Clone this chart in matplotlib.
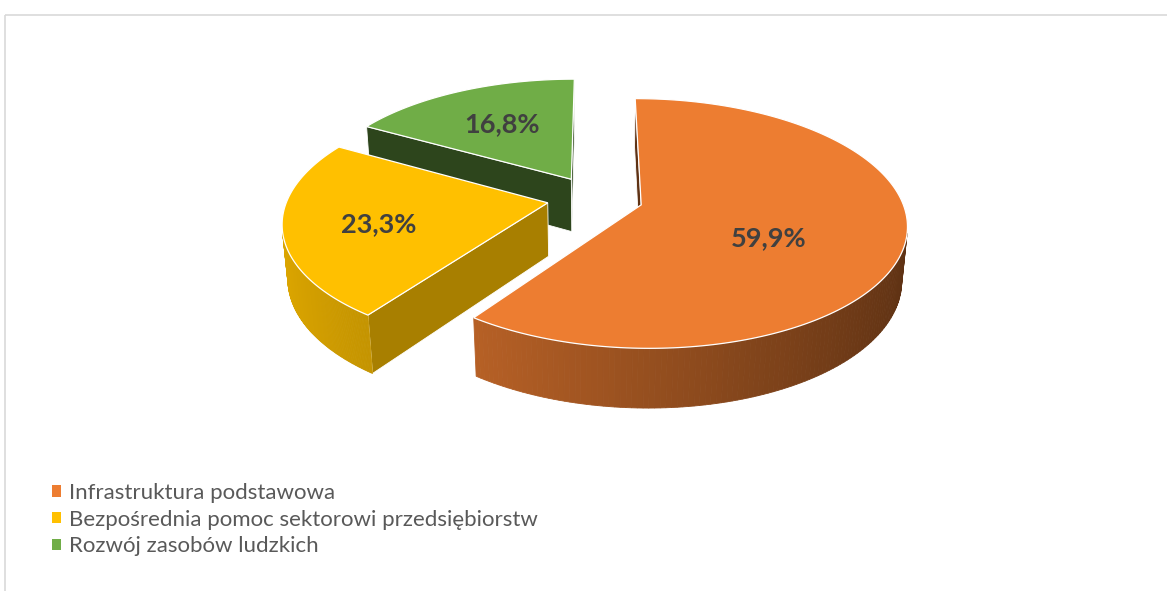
import numpy as np
import matplotlib.pyplot as plt
from matplotlib.patches import Polygon, Rectangle, Patch

# data
labels = ["Infrastruktura podstawowa",
          "Bezpośrednia pomoc sektorowi przedsiębiorstw",
          "Rozwój zasobów ludzkich"]
values = [59.9, 23.3, 16.8]
pct_labels = ["59,9%", "23,3%", "16,8%"]
colors = ["#ED7D31", "#FFC000", "#70AD47"]

# styling of the 3D look
radial_shade = [0.40, 0.66, 0.40]     # darkening of the cut faces
label_r = [0.53, 0.65, 0.60]          # label distance from slice apex (in radii)
label_turn = [-12, 3, 0]              # small angular tweak of label position

W, H = 1167, 591
fig = plt.figure(figsize=(W / 100, H / 100), dpi=100)
ax = fig.add_axes([0, 0, 1, 1])
ax.set_xlim(0, W)
ax.set_ylim(H, 0)
ax.axis("off")

# camera / projection
cx, cy = 595.0, 198.0
S = 260.0            # pixels per radius at centre depth
Dr = 6.0             # camera distance in radii
th = np.radians(27.5)  # elevation
thick = 0.235
explode = 0.185
cam = np.array([0.0, -Dr * np.cos(th), Dr * np.sin(th)])


def proj(x, y, z):
    d = Dr + y * np.cos(th) - z * np.sin(th)
    sx = cx + S * Dr * x / d
    sy = cy - S * Dr * (y * np.sin(th) + z * np.cos(th)) / d
    return np.column_stack([np.atleast_1d(sx), np.atleast_1d(sy)])


def shade(c, f):
    rgb = np.array(plt.matplotlib.colors.to_rgb(c))
    return tuple(np.clip(rgb * f, 0, 1))


# slices: start at 12 o'clock, clockwise
slices = []
start = 90.0
for v, c in zip(values, colors):
    a1 = start
    a0 = start - v * 3.6
    mid = np.radians((a0 + a1) / 2)
    apex = np.array([explode * np.cos(mid), explode * np.sin(mid)])
    slices.append((a0, a1, apex))
    start = a0

# draw back to front
order = sorted(range(len(values)), key=lambda i: -slices[i][2][1])
for i in order:
    a0, a1, apex = slices[i]
    c = colors[i]
    phi = np.radians(np.linspace(a0, a1, 200))
    rx = apex[0] + np.cos(phi)
    ry = apex[1] + np.sin(phi)

    # cut faces
    for ang, sgn in ((a0, 1), (a1, -1)):
        r = np.radians(ang)
        n = np.array([sgn * np.sin(r), -sgn * np.cos(r), 0.0])
        p = np.array([apex[0], apex[1], -thick / 2])
        if np.dot(n, cam - p) > 0:
            ex, ey = apex[0] + np.cos(r), apex[1] + np.sin(r)
            pts = np.vstack([proj(apex[0], apex[1], 0), proj(ex, ey, 0),
                             proj(ex, ey, -thick), proj(apex[0], apex[1], -thick)])
            ax.add_patch(Polygon(pts, closed=True, facecolor=shade(c, radial_shade[i]),
                                 edgecolor="white", lw=0.6, zorder=1))

    # outer curved side, in thin strips
    for k in range(len(phi) - 1):
        pm = (phi[k] + phi[k + 1]) / 2
        n = np.array([np.cos(pm), np.sin(pm), 0.0])
        p = np.array([apex[0] + np.cos(pm), apex[1] + np.sin(pm), -thick / 2])
        if np.dot(n, cam - p) <= 0:
            continue
        f = 0.632 - 0.237 * np.cos(pm)
        col = shade(c, f)
        pts = np.vstack([proj(rx[k:k + 2], ry[k:k + 2], 0),
                         proj(rx[k:k + 2][::-1], ry[k:k + 2][::-1], -thick)])
        ax.add_patch(Polygon(pts, closed=True, facecolor=col, edgecolor=col,
                             lw=0.6, zorder=1))

    # top face
    top = np.vstack([proj(apex[0], apex[1], 0), proj(rx, ry, 0)])
    ax.add_patch(Polygon(top, closed=True, facecolor=c, edgecolor="white",
                         lw=0.9, zorder=2))

    # label
    lm = np.radians((a0 + a1) / 2 + label_turn[i])
    lp = proj(apex[0] + label_r[i] * np.cos(lm), apex[1] + label_r[i] * np.sin(lm), 0)[0]
    ax.text(lp[0], lp[1], pct_labels[i], ha="center", va="center",
            fontsize=19.5, fontweight="bold", color="#404040", family="Lato", zorder=3)

# legend
handles = [Patch(facecolor=c, edgecolor="none") for c in colors]
fig.legend(handles, labels, loc="upper left", bbox_to_anchor=(43 / W, 1 - 474 / H),
           frameon=False, prop={"family": "Lato", "size": 16}, labelcolor="#595959",
           handlelength=0.4, handleheight=0.4, handletextpad=0.36, labelspacing=0.3,
           borderaxespad=0)

# chart area border
ax.add_patch(Rectangle((4.5, 14.5), 1300, 700, fill=False, edgecolor="#D9D9D9", lw=1.2))

fig.savefig("out.png", dpi=100)
